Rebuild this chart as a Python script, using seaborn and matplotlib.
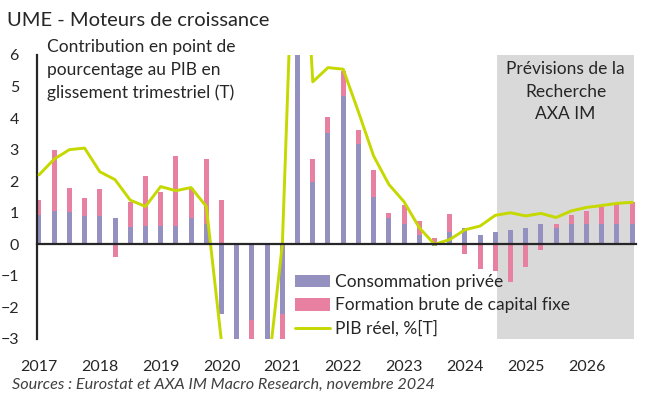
import numpy as np
import pandas as pd
import matplotlib
matplotlib.use("Agg")
import matplotlib.pyplot as plt
import seaborn as sns

# --- donnees (glissement annuel, trimestriel) ---
years = [str(y) for y in range(2017, 2027)]
quarters = [f"{y}T{q}" for y in years for q in range(1, 5)]

conso = [0.92, 1.06, 1.03, 0.90,
         0.90, 0.85, 0.55, 0.58,
         0.57, 0.57, 0.85, 0.66,
         -2.2, -8.0, -2.4, -4.0,
         -2.2, 7.5, 1.97, 3.54,
         4.70, 3.18, 1.51, 0.83,
         0.66, 0.29, -0.05, 0.40,
         0.51, 0.30, 0.40, 0.47,
         0.51, 0.64, 0.51, 0.64,
         0.64, 0.64, 0.66, 0.64]

fbcf = [0.5, 1.93, 0.74, 0.56,
        0.85, -0.4, 0.8, 1.6,
        1.1, 2.23, 0.92, 2.04,
        1.4, -4.0, -1.0, -0.5,
        -0.9, 2.5, 0.72, 0.5,
        0.78, 0.43, 0.83, 0.15,
        0.6, 0.45, 0.2, 0.56,
        -0.3, -0.77, -0.85, -1.19,
        -0.71, -0.17, 0.15, 0.28,
        0.42, 0.55, 0.61, 0.69]

pib = [2.2, 2.7, 3.0, 3.05,
       2.3, 2.05, 1.4, 1.2,
       1.83, 1.7, 1.8, 1.2,
       -3.1, -14.5, -4.1, -4.3,
       0.0, 13.8, 5.15, 5.6,
       5.55, 4.2, 2.8, 1.9,
       1.35, 0.53, 0.0, 0.15,
       0.46, 0.58, 0.92, 1.0,
       0.9, 0.98, 0.85, 1.06,
       1.17, 1.23, 1.3, 1.33]

first_forecast = "2024T3"

PURPLE = "#9491C1"
PINK = "#E880A1"
GREEN = "#C5D800"
GREY = "#D9D9D9"
TXT = "#262626"
FS = 12.5

df = pd.DataFrame({"t": np.arange(len(quarters)), "q": quarters,
                   "conso": conso, "fbcf": fbcf, "pib": pib})
# empilement facon Excel : le rose part du haut du violet si meme signe, sinon de 0
same = np.sign(df.conso) == np.sign(df.fbcf)
df["fbcf_end"] = df.fbcf + np.where(same, df.conso, 0)

sns.set_style("white")
plt.rcParams["font.family"] = ["Lato", "DejaVu Sans"]
plt.rcParams["text.color"] = TXT

W, H = 655, 396
fig = plt.figure(figsize=(W / 100, H / 100), dpi=100)
ax = fig.add_axes([37 / W, 1 - 339 / H, 599 / W, 284 / H])

t0 = df.loc[df.q == first_forecast, "t"].iloc[0]
x_end = len(df) - 0.85
ax.axvspan(t0 + 0.1, x_end, color=GREY, lw=0, zorder=0)

sns.barplot(data=df, x="t", y="fbcf_end", native_scale=True, color=PINK,
            width=0.33, saturation=1, errorbar=None, linewidth=0,
            label="Formation brute de capital fixe", ax=ax, zorder=2)
sns.barplot(data=df, x="t", y="conso", native_scale=True, color=PURPLE,
            width=0.33, saturation=1, errorbar=None, linewidth=0,
            label="Consommation privée", ax=ax, zorder=2)
sns.lineplot(data=df, x="t", y="pib", color=GREEN, lw=2.1,
             label="PIB réel, %[T]", ax=ax, zorder=3)

ax.set_xlim(-0.13, len(df) - 0.75)
ax.set_ylim(-3, 6)
ax.set_xlabel("")
ax.set_ylabel("")

# axe des x a zero, reperes d'annee qui traversent
ax.spines["bottom"].set_position(("data", 0))
ax.spines["bottom"].set_linewidth(1.6)
ax.spines["bottom"].set_zorder(4)
ax.spines["left"].set_linewidth(1.6)
ax.spines["top"].set_visible(False)
ax.spines["right"].set_visible(False)
ax.set_xticks(np.arange(4, len(df), 4) - 0.15)
ax.tick_params(axis="x", direction="inout", length=8.5, width=1.8,
               color="black", labelbottom=False)
ax.set_yticks(range(-3, 7))
ax.tick_params(axis="y", direction="in", length=3.6, width=1.6,
               color="black", pad=13, labelsize=11.5, labelcolor=TXT)

sec = ax.secondary_xaxis("bottom")
sec.set_xticks(np.arange(0, len(df), 4), labels=years)
sec.tick_params(length=0, pad=15, labelsize=11.5, labelcolor=TXT)
sec.spines["bottom"].set_visible(False)

h, l = ax.get_legend_handles_labels()
order = [l.index("Consommation privée"), l.index("Formation brute de capital fixe"),
         l.index("PIB réel, %[T]")]
ax.legend([h[i] for i in order], [l[i] for i in order], loc="upper left",
          bbox_to_anchor=(295 / W, 1 - 274 / H), bbox_transform=fig.transFigure,
          frameon=False, fontsize=FS, handlelength=2.0, handleheight=0.75,
          handletextpad=0.3, labelspacing=0.42, borderpad=0, borderaxespad=0)

fig.text(7 / W, 1 - 20 / H, "UME - Moteurs de croissance", fontsize=14.5,
         va="center", ha="left")
fig.text(47 / W, 1 - 39 / H,
         "Contribution en point de\npourcentage au PIB en\nglissement trimestriel (T)",
         fontsize=FS, va="top", ha="left", linespacing=1.5)
ax.text((t0 + 0.1 + x_end) / 2, 5.8, "Prévisions de la\nRecherche\nAXA IM",
        fontsize=FS, ha="center", va="top", linespacing=1.5)
fig.text(12 / W, 1 - 385 / H,
         "Sources : Eurostat et AXA IM Macro Research, novembre 2024",
         fontsize=11.7, style="italic", va="center", ha="left", color="#404040")

fig.savefig("out.png", dpi=100)
